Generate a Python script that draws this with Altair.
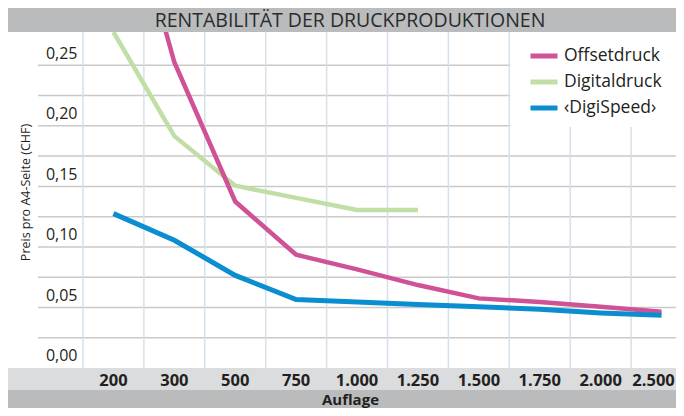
import altair as alt
import pandas as pd

# ---------------- data ----------------
auflage = ["200", "300", "500", "750", "1.000", "1.250", "1.500", "1.750", "2.000", "2.500"]
offsetdruck = [0.42, 0.240, 0.125, 0.081, 0.069, 0.056, 0.045, 0.042, 0.038, 0.034]
digitaldruck = [0.265, 0.179, 0.138, 0.128, 0.118, 0.118]          # 200 .. 1.250
digispeed = [0.115, 0.093, 0.064, 0.044, 0.042, 0.040, 0.038, 0.036, 0.033, 0.031]

series_names = ["Offsetdruck", "Digitaldruck", "\u2039DigiSpeed\u203a"]
series_colors = ["#cf5196", "#bfdfa6", "#0a8ed0"]

y_tick_values = [0.0, 0.05, 0.10, 0.15, 0.20, 0.25]
y_grid_values = [0.0125, 0.0375, 0.0625, 0.0875, 0.1125, 0.1375, 0.1625, 0.1875, 0.2125, 0.2375]

title_text = "RENTABILITÄT DER DRUCKPRODUKTIONEN"
x_title = "Auflage"
y_title = "Preis pro A4-Seite (CHF)"

# ---------------- styling ----------------
W, H = 593, 336
SANS = "Open Sans"
TXT = "#231f20"
BAND_DARK = "#b9bbbd"
BAND_LIGHT = "#dadcdd"

xscale = alt.Scale(type="band", domain=auflage, range=[0, 609], paddingInner=0, paddingOuter=0)
yscale = alt.Scale(domain=[-0.0125, 0.265], nice=False, zero=False)

xaxis = alt.Axis(
    orient="bottom", ticks=False, domain=False, grid=False, labelAngle=0, zindex=2,
    labelFont=SANS, labelFontSize=16.5, labelFontWeight="bold", labelColor=TXT,
    labelPadding=12, labelBaseline="middle", labelOverlap=False,
    labelOffset={"expr": "datum.label == '2.500' ? -8 : 0"},
    titleFont=SANS, titleFontSize=15, titleFontWeight="bold", titleColor=TXT,
    titleX=267, titleY=31, titleBaseline="middle", titleAlign="center",
)
yaxis = alt.Axis(
    values=y_tick_values,
    labelExpr="replace(format(datum.value, '.2f'), '.', ',')",
    ticks=False, domain=False, grid=False, zindex=2,
    labelFont=SANS, labelFontSize=16, labelColor=TXT, labelPadding=6, labelOffset=3,
    titleFont=SANS, titleFontSize=12.5, titleFontWeight="normal", titleColor=TXT,
    titleX=-58, titleY=160, titleAngle=270, titleAlign="center", titleBaseline="middle",
)
legend = alt.Legend(
    orient="none", legendX=445, legendY=8, title=None,
    symbolType="stroke", symbolSize=729, symbolStrokeWidth=5,
    labelFont=SANS, labelFontSize=17.5, labelColor=TXT, labelOffset=4,
    rowPadding=-2.5, padding=0, labelLimit=250,
)
color = alt.Color("Serie:N", scale=alt.Scale(domain=series_names, range=series_colors), legend=legend)
Y = alt.Y("Preis:Q", scale=yscale, axis=yaxis, title=y_title)

one = pd.DataFrame({"k": [0]})

title_band = alt.Chart(one).mark_rect(color=BAND_DARK).encode(
    x=alt.value(-75), x2=alt.value(W), y=alt.value(-24), y2=alt.value(0))
light_band = alt.Chart(one).mark_rect(color=BAND_LIGHT).encode(
    x=alt.value(-75), x2=alt.value(W), y=alt.value(H), y2=alt.value(H + 22))
dark_band = alt.Chart(one).mark_rect(color=BAND_DARK).encode(
    x=alt.value(-75), x2=alt.value(W), y=alt.value(H + 22), y2=alt.value(H + 40))

hgrid = alt.Chart(pd.DataFrame({"Preis": y_grid_values})).mark_rule(color="#c9c9c9", strokeWidth=1.5).encode(
    y=Y, x=alt.value(-45), x2=alt.value(W))
vgrid = alt.Chart(pd.DataFrame({"Auflage": auflage})).mark_rule(color="#d5e0ea", strokeWidth=1.5).encode(
    x=alt.X("Auflage:O", scale=xscale, bandPosition=0, axis=xaxis, title=x_title))

legend_box = alt.Chart(one).mark_rect(color="white").encode(
    x=alt.value(427.5), x2=alt.value(W), y=alt.value(0), y2=alt.value(95))


def line_layer(name, vals, width):
    df = pd.DataFrame({"Auflage": auflage[:len(vals)], "Preis": vals, "Serie": name})
    return alt.Chart(df).mark_line(strokeWidth=width, clip=True).encode(
        x=alt.X("Auflage:O", scale=xscale, bandPosition=0.5, axis=xaxis, title=x_title),
        y=Y,
        color=color,
    )


green = line_layer(series_names[1], digitaldruck, 4.5)
magenta = line_layer(series_names[0], offsetdruck, 4.5)
blue = line_layer(series_names[2], digispeed, 5)

title_mark = alt.Chart(one).mark_text(
    text=title_text, font=SANS, fontSize=19.5, color="#2b2b2b", align="center", baseline="alphabetic"
).encode(x=alt.value(267), y=alt.value(-5))

chart = alt.layer(
    title_band, light_band, dark_band, hgrid, vgrid, legend_box, green, magenta, blue, title_mark
).properties(
    width=W, height=H,
    padding={"left": 75, "top": 24, "right": 0, "bottom": 40},
    autosize=alt.AutoSizeParams(type="none"),
    background="white",
).configure_view(stroke=None)

chart.save("out.html", embed_options={"renderer": "svg", "actions": False})
